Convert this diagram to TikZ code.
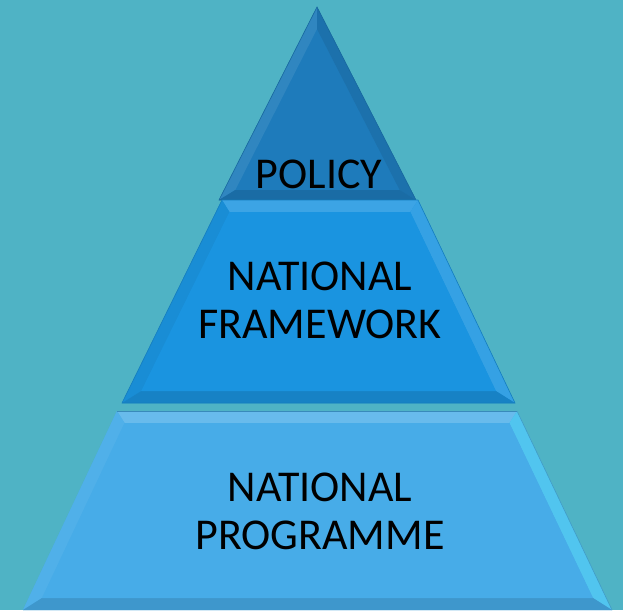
\documentclass[tikz,border=0pt]{standalone}
\usepackage{fontspec}
\setmainfont{Carlito}
\usetikzlibrary{positioning, calc}
\definecolor{bgteal}{HTML}{4FB3C5}
\definecolor{topblue}{HTML}{1E7BBB}
\definecolor{midblue}{HTML}{1A94E0}
\definecolor{lowblue}{HTML}{47ACE8}
\tikzset{
  tiertext/.style={text=black, align=center, font=\fontsize{44}{48}\selectfont, inner sep=0},
  face/.style={draw=none}
}

\begin{document}
\begin{tikzpicture}[x=1pt, y=-1pt]
  \fill[bgteal] (0,0) rectangle (623,610);
  \useasboundingbox (0,0) rectangle (623,610);

  % top tier
  \fill[face, fill=topblue] (317,7) -- (416,200) -- (219,200) -- cycle;
  \fill[face, fill=topblue!92!white] (317,7) -- (317,29) -- (235.3,190) -- (219,200) -- cycle;
  \fill[face, fill=topblue!92!black] (317,7) -- (416,200) -- (399.7,190) -- (317,29) -- cycle;
  \fill[face, fill=topblue!88!black] (219,200) -- (235.3,190) -- (399.7,190) -- (416,200) -- cycle;
  \draw[topblue!85!black, line width=0.6pt] (317,7) -- (416,200) -- (219,200) -- cycle;

  % middle tier
  \fill[face, fill=midblue] (222,200) -- (418,200) -- (515,403) -- (122,403) -- cycle;
  \fill[face, fill=midblue!85!white] (222,200) -- (418,200) -- (410.3,212) -- (229.5,212) -- cycle;
  \fill[face, fill=midblue!95!black] (222,200) -- (229.5,212) -- (141.3,391) -- (122,403) -- cycle;
  \fill[face, fill=midblue!88!white] (418,200) -- (515,403) -- (495.9,391) -- (410.3,212) -- cycle;
  \fill[face, fill=midblue!88!black] (122,403) -- (141.3,391) -- (495.9,391) -- (515,403) -- cycle;
  \fill[face, fill=midblue] (229.5,212) -- (410.3,212) -- (495.9,391) -- (141.3,391) -- cycle;
  \draw[midblue!85!black, line width=0.6pt] (222,200) -- (418,200) -- (515,403) -- (122,403) -- cycle;

  % bottom tier
  \fill[face, fill=lowblue] (117,411) -- (517,411) -- (612,610) -- (23,610) -- cycle;
  \fill[face, fill=lowblue!82!white] (117,411) -- (517,411) -- (509.4,423) -- (124.6,423) -- cycle;
  \fill[face, fill=lowblue!95!white] (117,411) -- (124.6,423) -- (42,598) -- (23,610) -- cycle;
  \fill[face, fill=lowblue!80!cyan!88!white] (517,411) -- (612,610) -- (593,598) -- (509.4,423) -- cycle;
  \fill[face, fill=lowblue!88!black] (23,610) -- (42,598) -- (593,598) -- (612,610) -- cycle;
  \fill[face, fill=lowblue] (124.6,423) -- (509.4,423) -- (593,598) -- (42,598) -- cycle;
  \draw[lowblue!80!black, line width=1pt] (117,411) -- (517,411);
  \draw[lowblue!85!black!70!bgteal, line width=0.6pt] (517,411) -- (612,610);

  % labels
  \node[tiertext, anchor=base] (policy) at (319,188) {POLICY};
  \node[tiertext] (framework) at (320,300) {NATIONAL\\FRAMEWORK};
  \node[tiertext] (programme) at (320,511.5) {NATIONAL\\PROGRAMME};
\end{tikzpicture}
\end{document}
